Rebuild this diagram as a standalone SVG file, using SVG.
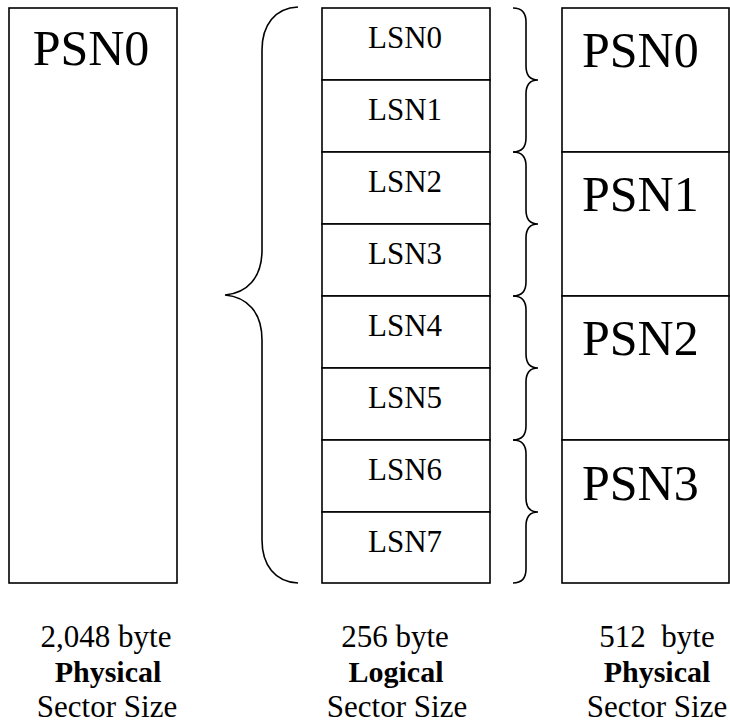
<svg xmlns="http://www.w3.org/2000/svg" width="730" height="725" viewBox="0 0 730 725">
  <style>
    .box { fill: #ffffff; stroke: #000000; stroke-width: 1.6; }
    .brace { fill: none; stroke: #000000; stroke-width: 1.6; }
    text { font-family: 'Liberation Serif', 'Times New Roman', serif; fill: #000000; }
    .big { font-size: 50px; }
    .lsn { font-size: 31px; text-anchor: middle; }
    .cap { font-size: 31px; text-anchor: middle; }
    .bold { font-weight: bold; font-size: 30px; }
  </style>
  <rect width="730" height="725" fill="#ffffff"/>

  <!-- 2,048-byte physical sector -->
  <g id="phys2048-psn0">
    <rect class="box" x="9" y="8" width="168" height="575"/>
    <text class="big" x="91" y="65" text-anchor="middle">PSN0</text>
  </g>

  <!-- 256-byte logical sectors -->
  <g id="lsn0"><rect class="box" x="322" y="8" width="168" height="72"/><text class="lsn" x="405" y="48">LSN0</text></g>
  <g id="lsn1"><rect class="box" x="322" y="80" width="168" height="72"/><text class="lsn" x="405" y="120">LSN1</text></g>
  <g id="lsn2"><rect class="box" x="322" y="152" width="168" height="72"/><text class="lsn" x="405" y="192">LSN2</text></g>
  <g id="lsn3"><rect class="box" x="322" y="224" width="168" height="72"/><text class="lsn" x="405" y="264">LSN3</text></g>
  <g id="lsn4"><rect class="box" x="322" y="296" width="168" height="72"/><text class="lsn" x="405" y="336">LSN4</text></g>
  <g id="lsn5"><rect class="box" x="322" y="368" width="168" height="72"/><text class="lsn" x="405" y="408">LSN5</text></g>
  <g id="lsn6"><rect class="box" x="322" y="440" width="168" height="72"/><text class="lsn" x="405" y="480">LSN6</text></g>
  <g id="lsn7"><rect class="box" x="322" y="512" width="168" height="71"/><text class="lsn" x="405" y="552">LSN7</text></g>

  <!-- 512-byte physical sectors -->
  <g id="psn0"><rect class="box" x="562" y="8" width="167" height="144"/><text class="big" x="582" y="67">PSN0</text></g>
  <g id="psn1"><rect class="box" x="562" y="152" width="167" height="144"/><text class="big" x="582" y="211">PSN1</text></g>
  <g id="psn2"><rect class="box" x="562" y="296" width="167" height="144"/><text class="big" x="582" y="355">PSN2</text></g>
  <g id="psn3"><rect class="box" x="562" y="440" width="167" height="143"/><text class="big" x="582" y="500">PSN3</text></g>

  <!-- braces grouping sectors -->
  <g id="connectors">
    <path class="brace" d="M298,7 C275,8 262,25 262,50 L262,250 C262,278 247,293 225,295 C247,297 262,312 262,340 L262,540 C262,565 275,582 298,583"/>
    <path class="brace" d="M513,8 C521,8 526,12 526,22 L526,66 C526,75 530,80 538,80 C530,80 526,85 526,94 L526,138 C526,148 521,152 513,152"/>
    <path class="brace" d="M513,152 C521,152 526,156 526,166 L526,210 C526,219 530,224 538,224 C530,224 526,229 526,238 L526,282 C526,292 521,296 513,296"/>
    <path class="brace" d="M513,296 C521,296 526,300 526,310 L526,354 C526,363 530,368 538,368 C530,368 526,373 526,382 L526,426 C526,436 521,440 513,440"/>
    <path class="brace" d="M513,440 C521,440 526,444 526,454 L526,498 C526,507 530,512 538,512 C530,512 526,517 526,526 L526,569 C526,579 521,583 513,583"/>
  </g>

  <!-- sector size captions -->
  <g id="caption-2048">
    <text class="cap" x="106" y="647">2,048 byte</text>
    <text class="cap bold" x="108" y="682">Physical</text>
    <text class="cap" x="107" y="717">Sector Size</text>
  </g>
  <g id="caption-256">
    <text class="cap" x="395" y="647">256 byte</text>
    <text class="cap bold" x="396" y="682">Logical</text>
    <text class="cap" x="397" y="717">Sector Size</text>
  </g>
  <g id="caption-512">
    <text class="cap" x="657" y="647" xml:space="preserve">512  byte</text>
    <text class="cap bold" x="657" y="682">Physical</text>
    <text class="cap" x="657" y="717">Sector Size</text>
  </g>
</svg>
